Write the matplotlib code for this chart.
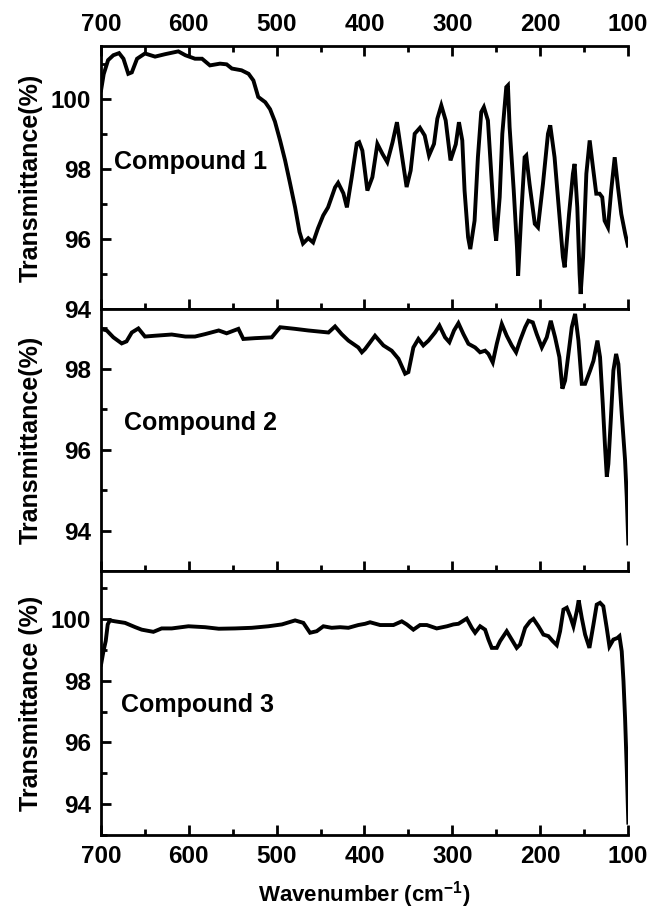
import matplotlib
matplotlib.use("Agg")
import matplotlib.pyplot as plt
from matplotlib.ticker import MultipleLocator

plt.rcParams['font.family'] = ['Liberation Sans', 'DejaVu Sans']
plt.rcParams['font.weight'] = 'bold'
plt.rcParams['mathtext.default'] = 'regular'

# ---- data (wavenumber cm-1, transmittance %) ----
wn1 = [700, 697, 692, 686, 679.5, 674.5, 669, 665, 659, 650, 638.5, 627, 612, 604, 593, 585,
       576, 564.5, 557, 551, 540, 532, 526.5, 521, 513, 507.5, 502, 496, 490.4, 484.7, 479,
       474, 470, 464, 458.5, 453, 447, 441.5, 433.5, 430, 424, 420, 414.5, 408.8, 406, 402.4,
       396.7, 391, 385.3, 379.6, 374, 368, 363, 358.8, 352, 347.4, 342.8, 336.8, 331.4, 326.5,
       320.8, 317, 312.5, 307.5, 302, 296, 292.4, 288.6, 286, 282, 279.5, 274.6, 270.8, 267,
       264, 259.4, 255.6, 251.8, 250, 246, 243, 238.5, 236.6, 234.7, 230, 226.3, 225, 221.4,
       217.6, 215.7, 212, 206, 202.4, 196.7, 191, 188.4, 183.5, 177.8, 174, 172, 167, 162.6,
       160.7, 157.6, 155, 153.8, 151, 147.3, 143.5, 139.8, 136, 132.2, 129.2, 126.5, 122.7,
       119, 115, 111.3, 107.5, 103, 100]
tr1 = [100.24, 100.7, 101.1, 101.24, 101.3, 101.14, 100.71, 100.75, 101.14, 101.29, 101.2,
       101.27, 101.35, 101.24, 101.14, 101.14, 100.95, 101.0, 100.98, 100.86, 100.81, 100.71,
       100.52, 100.05, 99.9, 99.7, 99.35, 98.8, 98.24, 97.58, 96.9, 96.2, 95.87, 96.02, 95.9,
       96.3, 96.67, 96.9, 97.47, 97.6, 97.3, 96.9, 97.76, 98.72, 98.76, 98.52, 97.38, 97.76,
       98.71, 98.43, 98.19, 98.76, 99.33, 98.62, 97.48, 97.95, 99.0, 99.17, 98.95, 98.38,
       98.71, 99.43, 99.81, 99.38, 98.24, 98.7, 99.33, 98.81, 97.38, 96.05, 95.71, 96.52,
       98.33, 99.62, 99.76, 99.38, 97.86, 96.33, 95.95, 97.19, 99.0, 100.33, 100.38, 99.19,
       97.38, 95.76, 94.95, 96.71, 98.33, 98.38, 97.57, 96.43, 96.33, 97.57, 99.0, 99.24,
       98.33, 96.62, 95.48, 95.19, 96.71, 97.86, 98.14, 96.9, 95.0, 94.43, 95.48, 97.86,
       98.81, 98.05, 97.29, 97.29, 97.19, 96.52, 96.33, 97.38, 98.33, 97.48, 96.71, 96.14,
       95.81]

wn2 = [700, 693.5, 686, 676.5, 671, 665, 657.5, 650, 638.5, 619.5, 604, 593, 581.5, 566, 557,
       543.6, 538, 524.6, 505.6, 496, 479, 464, 441, 433.5, 426, 418.3, 407, 403, 399.3, 388,
       378.4, 369, 361.3, 353.7, 350, 344.3, 338.6, 333, 327, 319.6, 314.6, 308.2, 303.3, 298,
       293, 287.3, 281.6, 274, 268.3, 262.6, 258.8, 253.9, 249.3, 243.6, 238, 232.3, 227.3,
       222.8, 217, 213.3, 208.3, 203.8, 198, 192.4, 187.8, 182.9, 178, 174.6, 171.5, 167.7,
       163.9, 160.1, 156.3, 152.5, 148.7, 143, 139.2, 134.7, 131.7, 128.6, 126, 124, 122.2,
       119.5, 116.5, 113.4, 110.8, 107, 103.2, 101.3, 99.5]
tr2 = [98.99, 98.95, 98.78, 98.63, 98.68, 98.9, 99.0, 98.8, 98.82, 98.85, 98.8, 98.8, 98.86,
       98.95, 98.88, 98.99, 98.74, 98.76, 98.78, 99.03, 98.99, 98.95, 98.9, 99.05, 98.86, 98.7,
       98.53, 98.41, 98.49, 98.82, 98.58, 98.45, 98.25, 97.88, 97.92, 98.53, 98.74, 98.58,
       98.7, 98.9, 99.07, 98.78, 98.66, 98.95, 99.13, 98.86, 98.62, 98.53, 98.41, 98.45,
       98.37, 98.16, 98.62, 99.11, 98.82, 98.58, 98.41, 98.7, 99.03, 99.19, 99.15, 98.86,
       98.53, 98.78, 99.19, 98.78, 98.29, 97.51, 97.71, 98.37, 99.03, 99.36, 98.7, 97.63,
       97.63, 97.96, 98.2, 98.7, 98.29, 97.14, 96.07, 95.33, 95.65, 96.72, 97.96, 98.37,
       98.12, 96.89, 95.74, 94.83, 93.68]

wn3 = [700, 697.3, 694.7, 692.4, 690, 684, 672.7, 661, 653.7, 640.4, 631, 619.5, 600.5, 581.5,
       566, 547.4, 528.4, 509.4, 494, 479, 469.6, 462, 454.4, 446.8, 437.3, 427.8, 418.3, 407,
       399.3, 393.6, 382.2, 367, 357.5, 351.8, 344.3, 336.7, 329, 317.7, 306, 298.7, 293,
       283.5, 277.8, 274, 268.3, 262.6, 258.8, 255, 249.3, 245.5, 238, 232.3, 226.6, 222.8,
       217, 211.4, 207.6, 201.9, 196.2, 190.5, 185.6, 181, 177.2, 173.4, 169.6, 165.8, 162,
       158.2, 156, 152.5, 148.7, 143.8, 139.2, 135.5, 131.7, 128, 124.1, 121, 116.5, 112,
       109.6, 107, 105, 103.2, 101.3, 99.5]
tr3 = [98.52, 98.95, 99.28, 99.82, 99.95, 99.92, 99.87, 99.73, 99.65, 99.58, 99.69, 99.69,
       99.76, 99.73, 99.68, 99.69, 99.71, 99.76, 99.82, 99.95, 99.87, 99.55, 99.6, 99.76,
       99.71, 99.73, 99.71, 99.8, 99.84, 99.89, 99.8, 99.8, 99.92, 99.82, 99.65, 99.8, 99.8,
       99.69, 99.76, 99.82, 99.84, 100.01, 99.71, 99.55, 99.76, 99.65, 99.33, 99.06, 99.06,
       99.28, 99.6, 99.33, 99.06, 99.17, 99.71, 99.92, 100.0, 99.76, 99.49, 99.44, 99.28,
       99.15, 99.6, 100.3, 100.36, 100.09, 99.76, 100.25, 100.6, 100.03, 99.49, 99.06, 99.82,
       100.46, 100.52, 100.41, 99.71, 99.11, 99.33, 99.38, 99.44, 98.95, 97.98, 96.79, 95.17,
       93.4]

names = ['Compound 1', 'Compound 2', 'Compound 3']
ylabels = ['Transmittance(%)', 'Transmittance(%)', 'Transmittance (%)']
ylims = [(94.0, 101.5), (93.0, 99.48), (93.0, 101.55)]
label_pos = [(685, 98.0), (674, 96.49), (677, 97.0)]

fig = plt.figure(figsize=(6.52, 9.13), dpi=100)
rects = [[0.155, 0.6615, 0.808, 0.288],
         [0.155, 0.3746, 0.808, 0.2869],
         [0.155, 0.0854, 0.808, 0.2892]]

series = [(wn1, tr1), (wn2, tr2), (wn3, tr3)]
for i, (wn, tr) in enumerate(series):
    ax = fig.add_axes(rects[i])
    ax.plot(wn, tr, color='black', lw=2.8, solid_joinstyle='miter')
    ax.set_xlim(700, 100)
    ax.set_ylim(*ylims[i])
    ax.xaxis.set_major_locator(MultipleLocator(100))
    ax.xaxis.set_minor_locator(MultipleLocator(50))
    ax.yaxis.set_major_locator(MultipleLocator(2))
    ax.yaxis.set_minor_locator(MultipleLocator(1))
    ax.spines['right'].set_visible(False)
    for s in ['left', 'top', 'bottom']:
        ax.spines[s].set_linewidth(2)
    ax.tick_params(which='both', direction='in', width=2, right=False,
                   top=(i == 0), labeltop=(i == 0), labelbottom=(i == 2))
    ax.tick_params(which='major', length=7, labelsize=17.5, pad=7)
    ax.tick_params(which='minor', length=4)
    for lab in ax.get_xticklabels() + ax.get_yticklabels():
        lab.set_fontweight('bold')
    ax.set_ylabel(ylabels[i], fontsize=18, fontweight='bold')
    ax.yaxis.set_label_coords(-0.11, 0.5)
    ax.text(label_pos[i][0], label_pos[i][1], names[i], fontsize=18, fontweight='bold',
            ha='left', va='baseline')
    if i == 2:
        ax.set_xlabel('Wavenumber (cm$^{-1}$)', fontsize=16, fontweight='bold', labelpad=8)

fig.savefig('out.png', dpi=100)
